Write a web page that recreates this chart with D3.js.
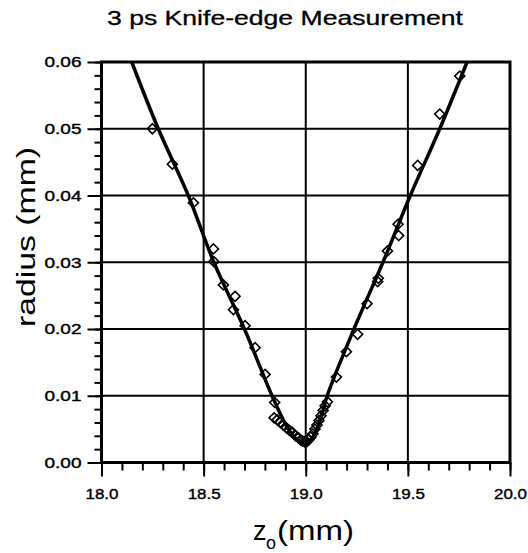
<!DOCTYPE html>
<html>
<head>
<meta charset="utf-8">
<script src="https://cdn.jsdelivr.net/npm/d3@7"></script>
<style>
    body { margin: 0; background: #fff; }
    text { font-family: "Liberation Sans", Arial, sans-serif; fill: #000; }
</style>
</head>
<body>
<div id="chart"></div>
<script>

// measured points (z in mm, radius in mm)
let pointsZ = [18.249, 18.347, 18.450, 18.548, 18.550, 18.597, 18.654, 18.646, 18.703, 18.752,
    18.801, 18.848, 18.845, 18.860, 18.875, 18.890, 18.905, 18.920, 18.935, 18.950, 18.965,
    18.975, 18.985, 18.995, 19.005, 19.015, 19.025, 19.035, 19.045, 19.055, 19.065, 19.075,
    19.085, 19.095, 19.106, 19.150, 19.199, 19.254, 19.300, 19.352, 19.355, 19.400, 19.452,
    19.455, 19.548, 19.656, 19.754]
let pointsR = [0.0500, 0.0447, 0.0389, 0.0320, 0.0301, 0.0266, 0.0249, 0.0229, 0.0205, 0.0172,
    0.0132, 0.0090, 0.0067, 0.0064, 0.0060, 0.0056, 0.0052, 0.0048, 0.0045, 0.0040, 0.0037,
    0.0034, 0.0032, 0.0031, 0.0031, 0.0034, 0.0038, 0.0043, 0.0050, 0.0056, 0.0063, 0.0070,
    0.0078, 0.0085, 0.0091, 0.0128, 0.0166, 0.0192, 0.0238, 0.0271, 0.0276, 0.0317, 0.0357,
    0.0340, 0.0445, 0.0522, 0.0579]

// fitted curve
let fitZ = [18.148, 18.278, 18.425, 18.550, 18.700, 18.835, 18.900, 18.950, 18.990,
    19.030, 19.070, 19.105, 19.236, 19.378, 19.512, 19.656, 19.790]
let fitR = [0.060, 0.050, 0.040, 0.030, 0.020, 0.010, 0.0058, 0.0036, 0.0027,
    0.0036, 0.0063, 0.010, 0.020, 0.030, 0.040, 0.050, 0.060]

let xTicks = [18.0, 18.5, 19.0, 19.5, 20.0]
let yTicks = [0.00, 0.01, 0.02, 0.03, 0.04, 0.05, 0.06]

let margin = { top: 62, right: 18, bottom: 90.5, left: 101.5 };
let width = 528 - margin.left - margin.right;
let height = 553 - margin.top - margin.bottom;

let svg = d3.select("#chart").append("svg")
    .attr("width", 528)
    .attr("height", 553)

let g = svg.append("g")
    .attr("transform", `translate(${margin.left}, ${margin.top})`);

let x = d3.scaleLinear().domain([18.0, 20.0]).range([0, width]);
let y = d3.scaleLinear().domain([0, 0.06]).range([height, 0]);

// grid
g.selectAll(".vgrid")
    .data(xTicks.slice(1, -1))
    .join("line")
    .attr("class", "vgrid")
    .attr("x1", d => x(d)).attr("x2", d => x(d))
    .attr("y1", 0).attr("y2", height)
    .attr("stroke", "#000").attr("stroke-width", 2)
g.selectAll(".hgrid")
    .data(yTicks.slice(1, -1))
    .join("line")
    .attr("class", "hgrid")
    .attr("x1", 0).attr("x2", width)
    .attr("y1", d => y(d)).attr("y2", d => y(d))
    .attr("stroke", "#000").attr("stroke-width", 2)

// minor ticks
let xMinor = d3.range(18.0, 20.001, 0.1).map(d => +d.toFixed(1))
let yMinor = d3.range(0, 0.0601, 0.002).map(d => +d.toFixed(3))

g.append("g")
    .attr("transform", `translate(0, ${height})`)
    .call(d3.axisBottom(x).tickValues(xMinor).tickSize(8).tickFormat(""))
g.append("g")
    .call(d3.axisLeft(y).tickValues(yMinor).tickSize(7).tickFormat(""))

// major axes
let xAxisGroup = g.append("g")
    .attr("transform", `translate(0, ${height})`)
    .call(d3.axisBottom(x).tickValues(xTicks).tickSize(14).tickPadding(12).tickFormat(d3.format(".1f")))
let yAxisGroup = g.append("g")
    .call(d3.axisLeft(y).tickValues(yTicks).tickSize(14).tickPadding(6).tickFormat(d3.format(".2f")))

g.selectAll(".domain").remove()
g.selectAll(".tick line").attr("stroke", "#000").attr("stroke-width", 2)

xAxisGroup.selectAll("text")
    .style("font-size", "15px")
    .attr("stroke", "#000").attr("stroke-width", 0.4)
    .attr("textLength", 33).attr("lengthAdjust", "spacingAndGlyphs")
yAxisGroup.selectAll("text")
    .style("font-size", "15px")
    .attr("stroke", "#000").attr("stroke-width", 0.4)
    .attr("textLength", 37).attr("lengthAdjust", "spacingAndGlyphs")

// frame
g.append("rect")
    .attr("width", width)
    .attr("height", height)
    .attr("fill", "none")
    .attr("stroke", "#000")
    .attr("stroke-width", 3)

// fit line
let fitData = fitZ.map((z, i) => ({ z: z, r: fitR[i] }))
g.append("path")
    .datum(fitData)
    .attr("fill", "none")
    .attr("stroke", "#000")
    .attr("stroke-width", 3.5)
    .attr("d", d3.line().x(d => x(d.z)).y(d => y(d.r)).curve(d3.curveCatmullRom))

// diamonds
let pts = pointsZ.map((z, i) => ({ z: z, r: pointsR[i] }))
let diamond = d3.symbol().type(d3.symbolSquare).size(50)
g.selectAll(".pt")
    .data(pts)
    .join("path")
    .attr("class", "pt")
    .attr("d", diamond)
    .attr("transform", d => `translate(${x(d.z)}, ${y(d.r)}) rotate(45)`)
    .attr("fill", "none")
    .attr("stroke", "#000")
    .attr("stroke-width", 1.6)

// title and labels
svg.append("text")
    .attr("x", 285).attr("y", 25)
    .attr("text-anchor", "middle")
    .style("font-size", "21px")
    .attr("stroke", "#000").attr("stroke-width", 0.3)
    .attr("textLength", 356).attr("lengthAdjust", "spacingAndGlyphs")
    .text("3 ps Knife-edge Measurement")

svg.append("text")
    .attr("transform", "translate(35, 237) rotate(-90)")
    .attr("text-anchor", "middle")
    .style("font-size", "26px")
    .attr("textLength", 180).attr("lengthAdjust", "spacingAndGlyphs")
    .text("radius (mm)")

svg.append("text")
    .attr("x", 253).attr("y", 540)
    .style("font-size", "27px")
    .text("z")
svg.append("text")
    .attr("x", 266).attr("y", 549)
    .style("font-size", "18px")
    .text("o")
svg.append("text")
    .attr("x", 277).attr("y", 540)
    .style("font-size", "27px")
    .attr("textLength", 77).attr("lengthAdjust", "spacingAndGlyphs")
    .text("(mm)")

</script>
</body>
</html>
